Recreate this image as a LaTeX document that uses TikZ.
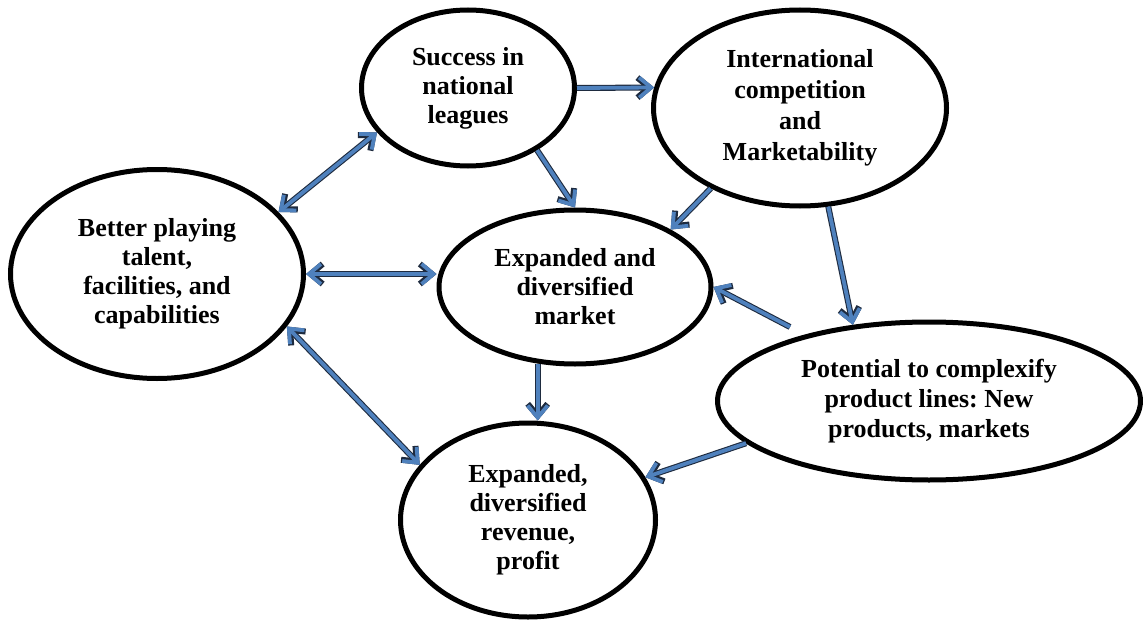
\documentclass[tikz,border=0pt]{standalone}
\usepackage{fontspec}
\setmainfont{Liberation Serif}
\frenchspacing
\usetikzlibrary{arrows.meta,shapes.geometric}
\definecolor{arrblue}{HTML}{4F81BD}
\definecolor{arredge}{HTML}{1E2B3F}
\begin{document}
\begin{tikzpicture}[x=1pt,y=-1pt,
  oval/.style={ellipse, draw=black, line width=5pt, inner sep=0pt, align=center,
    font=\fontsize{26}{29}\selectfont\bfseries},
  tipa/.style={-{Straight Barb[length=12pt,width=20pt]}},
  tipb/.style={{Straight Barb[length=12pt,width=20pt]}-{Straight Barb[length=12pt,width=20pt]}},
  link/.style={draw=arrblue, line width=3.8pt, tipa,
    preaction={draw=arredge, line width=6pt, tipa}},
  linkboth/.style={draw=arrblue, line width=3.8pt, tipb,
    preaction={draw=arredge, line width=6pt, tipb}}
]
\useasboundingbox (0,0) rectangle (1143,623);

\node[oval, minimum width=213pt, minimum height=156pt] (succ) at (468,88)
  {Success in\\national\\leagues};
\node[oval, minimum width=293pt, minimum height=196pt,
  font=\fontsize{26}{31}\selectfont\bfseries] (intl) at (800,108)
  {International\\competition\\and\\Marketability};
\node[oval, minimum width=293pt, minimum height=209pt] (better) at (157,274)
  {Better playing\\talent,\\facilities, and\\capabilities};
\node[oval, minimum width=272pt, minimum height=154pt] (market) at (575,287)
  {Expanded and\\diversified\\market};
\node[oval, minimum width=423pt, minimum height=158pt,
  font=\fontsize{26}{30}\selectfont\bfseries] (pot) at (929,401)
  {Potential to complexify\\product lines: New\\products, markets};
\node[oval, minimum width=255pt, minimum height=194pt] (rev) at (528,520)
  {Expanded,\\diversified\\revenue,\\profit};

\coordinate (pstart) at (790,327);

\draw[link] (succ.east) -- (intl.172);
\draw[linkboth] (succ.206.6) -- (better.27.3);
\draw[link] (succ.-42) -- (market.north);
\draw[link] (intl.222) -- (market.31.5);
\draw[link] (intl.-74.4) -- (pot.135.7);
\draw[link] (pstart) -- (market.east);
\draw[linkboth] (better.east) -- (market.west |- better.east);
\draw[link] (market.-116.6) -- (market.-116.6 |- rev.north);
\draw[linkboth] (better.-22.5) -- (rev.153);
\draw[link] (pot.193) -- (rev.20);
\end{tikzpicture}
\end{document}
